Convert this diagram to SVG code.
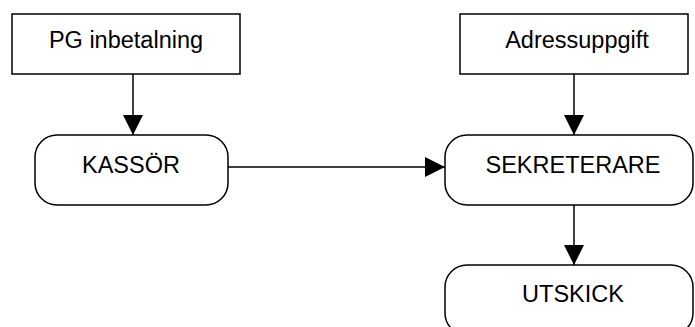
<svg xmlns="http://www.w3.org/2000/svg" width="695" height="327" viewBox="0 0 695 327">
<style>
.box{fill:#fff;stroke:#000;stroke-width:1.5}
.t{font-family:"Liberation Sans",Arial,sans-serif;font-size:23.5px;fill:#000;text-anchor:middle}
.c{stroke:#000;stroke-width:1.5;fill:none}
</style>
<defs>
<marker id="ah" viewBox="0 0 20 20" refX="20" refY="10" markerWidth="20" markerHeight="20" markerUnits="userSpaceOnUse" orient="auto">
<path d="M0,0 L20,10 L0,20 Z" fill="#000"/>
</marker>
</defs>
<g id="pg"><rect class="box" x="12" y="14" width="228" height="60"/><text class="t" x="126" y="48">PG inbetalning</text></g>
<g id="adress"><rect class="box" x="460" y="14" width="228" height="60"/><text class="t" x="577" y="48">Adressuppgift</text></g>
<g id="kassor"><rect class="box" x="35" y="135" width="193" height="70" rx="22" ry="22"/><text class="t" x="131" y="173">KASSÖR</text></g>
<g id="sekreterare"><rect class="box" x="445" y="135" width="248" height="70" rx="22" ry="22"/><text class="t" x="573" y="173">SEKRETERARE</text></g>
<g id="utskick"><rect class="box" x="445" y="265" width="248" height="70" rx="22" ry="22"/><text class="t" x="573" y="302">UTSKICK</text></g>
<g id="connectors">
<line class="c" x1="133" y1="74" x2="133" y2="135" marker-end="url(#ah)"/>
<line class="c" x1="574" y1="74" x2="574" y2="135" marker-end="url(#ah)"/>
<line class="c" x1="228" y1="167" x2="445" y2="167" marker-end="url(#ah)"/>
<line class="c" x1="574" y1="205" x2="574" y2="265" marker-end="url(#ah)"/>
</g>
</svg>
